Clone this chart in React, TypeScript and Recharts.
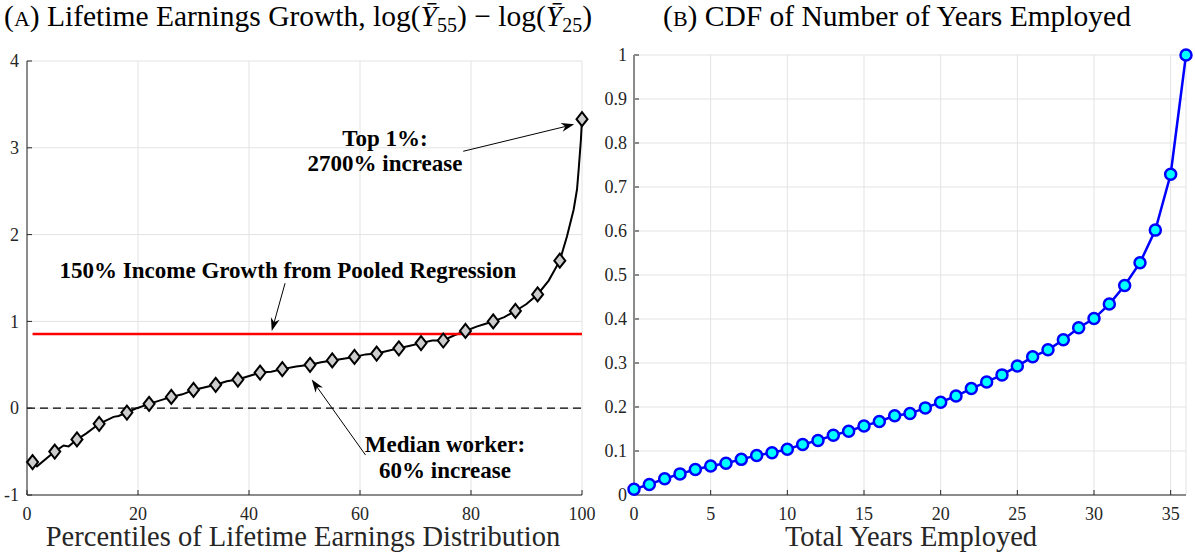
import { LineChart, Line, XAxis, YAxis, CartesianGrid, ReferenceLine } from 'recharts'

// panel A: lifetime earnings growth by percentile
const earnPct = [1, 1.8, 5, 6.6, 7.5, 9, 10.7, 13, 15.6, 16.5, 18, 19.8, 22, 24, 26, 28, 30, 34, 36, 38, 42, 44, 46, 48.5, 51, 53, 55, 59, 61, 63, 67, 69, 71, 73, 75, 77, 79, 81, 82.5, 84, 86, 88, 90, 92, 94, 96, 97.3, 98.5, 99.1, 99.4, 99.8, 100]
const earnVal = [-0.62, -0.67, -0.5, -0.43, -0.44, -0.36, -0.29, -0.18, -0.1, -0.09, -0.05, 0.0, 0.05, 0.09, 0.13, 0.16, 0.21, 0.27, 0.31, 0.33, 0.41, 0.42, 0.45, 0.48, 0.5, 0.53, 0.55, 0.59, 0.62, 0.63, 0.69, 0.72, 0.75, 0.78, 0.78, 0.84, 0.89, 0.94, 0.97, 1.0, 1.05, 1.12, 1.2, 1.31, 1.47, 1.7, 1.98, 2.29, 2.52, 2.75, 3.09, 3.33]

const markPct = [1, 5, 9, 13, 18, 22, 26, 30, 34, 38, 42, 46, 51, 55, 59, 63, 67, 71, 75, 79, 84, 88, 92, 96, 100]
const markVal = [-0.62, -0.5, -0.36, -0.18, -0.05, 0.05, 0.13, 0.21, 0.27, 0.33, 0.41, 0.45, 0.5, 0.55, 0.59, 0.63, 0.69, 0.75, 0.78, 0.89, 1.0, 1.12, 1.31, 1.7, 3.33]

const pooledPct = [1, 100]
const pooledVal = [0.855, 0.855]

// arrows: [start, head] in data units
const topArrow = [{ x: 78.6, y: 2.96 }, { x: 98.6, y: 3.27 }]
const pooledArrow = [{ x: 46.5, y: 1.44 }, { x: 44.1, y: 0.89 }]
const medianArrow = [{ x: 61.0, y: -0.54 }, { x: 51.3, y: 0.33 }]

const pctTicks = [0, 20, 40, 60, 80, 100]
const growthTicks = [-1, 0, 1, 2, 3, 4]

// panel B: CDF of years employed
const years = [0, 1, 2, 3, 4, 5, 6, 7, 8, 9, 10, 11, 12, 13, 14, 15, 16, 17, 18, 19, 20, 21, 22, 23, 24, 25, 26, 27, 28, 29, 30, 31, 32, 33, 34, 35, 36]
const cdfVal = [0.013, 0.024, 0.037, 0.048, 0.058, 0.066, 0.072, 0.081, 0.09, 0.096, 0.104, 0.115, 0.124, 0.136, 0.145, 0.157, 0.167, 0.18, 0.185, 0.198, 0.211, 0.225, 0.242, 0.257, 0.273, 0.293, 0.314, 0.33, 0.353, 0.38, 0.401, 0.434, 0.476, 0.528, 0.602, 0.729, 1.0]

const yearTicks = [0, 5, 10, 15, 20, 25, 30, 35]
const cdfTicks = [0, 0.1, 0.2, 0.3, 0.4, 0.5, 0.6, 0.7, 0.8, 0.9, 1]

const earnData = earnPct.map((x, i) => ({ x, y: earnVal[i] }))
const markData = markPct.map((x, i) => ({ x, y: markVal[i] }))
const pooledData = pooledPct.map((x, i) => ({ x, y: pooledVal[i] }))
const cdfData = years.map((x, i) => ({ x, y: cdfVal[i] }))

const serif = '"Liberation Serif", "Times New Roman", serif'

const BottomTick = (props: any) => {
  const { x, y, payload } = props
  return (
    <text x={x} y={y} dy="0.71em" textAnchor="middle" fontFamily={serif} fontSize={18} fill="#262626">
      {payload.value}
    </text>
  )
}

const LeftTick = (props: any) => {
  const { x, y, payload } = props
  return (
    <text x={x} y={y} dy="0.34em" textAnchor="end" fontFamily={serif} fontSize={18} fill="#262626">
      {payload.value}
    </text>
  )
}

const Diamond = (props: any) => {
  const { cx, cy, index } = props
  if (cx == null || cy == null) return <g key={index} />
  return (
    <path
      key={index}
      d={`M${cx},${cy - 7}L${cx + 5.5},${cy}L${cx},${cy + 7}L${cx - 5.5},${cy}Z`}
      fill="#cccccc"
      stroke="#000"
      strokeWidth={2}
    />
  )
}

const Arrow = (props: any) => {
  const { x1, y1, x2, y2 } = props
  const a = Math.atan2(y2 - y1, x2 - x1)
  const len = 13
  const w = 4.5
  const bx = x2 - len * Math.cos(a)
  const by = y2 - len * Math.sin(a)
  const ix = x2 - len * 0.7 * Math.cos(a)
  const iy = y2 - len * 0.7 * Math.sin(a)
  const px = -Math.sin(a) * w
  const py = Math.cos(a) * w
  return (
    <g>
      <line x1={x1} y1={y1} x2={ix} y2={iy} stroke="#000" strokeWidth={1} />
      <path d={`M${x2},${y2}L${bx + px},${by + py}L${ix},${iy}L${bx - px},${by - py}Z`} fill="#000" />
    </g>
  )
}

function EarningsChart() {
  return (
    <LineChart width={600} height={554} margin={{ top: 61, right: 18, bottom: 0, left: 0 }}>
      <CartesianGrid stroke="#e3e3e3" />
      <XAxis
        type="number"
        dataKey="x"
        domain={[0, 100]}
        ticks={pctTicks}
        interval={0}
        height={59}
        tickSize={-5}
        tickMargin={17}
        tick={BottomTick}
        stroke="#262626"
      />
      <XAxis xAxisId="top" orientation="top" type="number" dataKey="x" domain={[0, 100]} ticks={pctTicks} interval={0} height={0} tickSize={-5} tick={false} stroke="#262626" />
      <YAxis
        type="number"
        domain={[-1, 4]}
        ticks={growthTicks}
        interval={0}
        width={27}
        tickSize={-5}
        tickMargin={13}
        tick={LeftTick}
        stroke="#262626"
      />
      <YAxis yAxisId="right" orientation="right" type="number" domain={[-1, 4]} ticks={growthTicks} interval={0} width={0} tickSize={-5} tick={false} stroke="#8a8a8a" strokeWidth={2} />
      <ReferenceLine y={0} stroke="#000" strokeWidth={1.2} strokeDasharray="8 5" />
      <Line data={earnData} dataKey="y" type="linear" stroke="#000" strokeWidth={2} dot={false} isAnimationActive={false} />
      <Line data={pooledData} dataKey="y" type="linear" stroke="#ff0000" strokeWidth={2.5} dot={false} isAnimationActive={false} />
      <Line data={markData} dataKey="y" type="linear" stroke="none" dot={Diamond} activeDot={false} isAnimationActive={false} />
      <ReferenceLine segment={topArrow} shape={Arrow} ifOverflow="visible" />
      <ReferenceLine segment={pooledArrow} shape={Arrow} ifOverflow="visible" />
      <ReferenceLine segment={medianArrow} shape={Arrow} ifOverflow="visible" />
    </LineChart>
  )
}

function CdfChart() {
  return (
    <LineChart width={595} height={554} margin={{ top: 55, right: 9, bottom: 0, left: 0 }}>
      <CartesianGrid stroke="#e3e3e3" />
      <XAxis
        type="number"
        dataKey="x"
        domain={[0, 36]}
        ticks={yearTicks}
        interval={0}
        height={59}
        tickSize={-5}
        tickMargin={17}
        tick={BottomTick}
        stroke="#262626"
      />
      <XAxis xAxisId="top" orientation="top" type="number" dataKey="x" domain={[0, 36]} ticks={yearTicks} interval={0} height={0} tickSize={-5} tick={false} stroke="#262626" />
      <YAxis
        type="number"
        domain={[0, 1]}
        ticks={cdfTicks}
        interval={0}
        width={34}
        tickSize={-5}
        tickMargin={12}
        tick={LeftTick}
        stroke="#8a8a8a"
        strokeWidth={2}
      />
      <YAxis yAxisId="right" orientation="right" type="number" domain={[0, 1]} ticks={cdfTicks} interval={0} width={0} tickSize={-5} tick={false} stroke="#262626" />
      <Line
        data={cdfData}
        dataKey="y"
        type="linear"
        stroke="#0000ff"
        strokeWidth={2.5}
        dot={{ r: 5.5, fill: '#00ffff', stroke: '#0000ff', strokeWidth: 2.5 }}
        activeDot={false}
        isAnimationActive={false}
      />
    </LineChart>
  )
}

export default function App() {
  const bold = { fontFamily: serif, fontWeight: 700, fontSize: 23, fill: '#000' }
  return (
    <div style={{ position: 'absolute', left: 0, top: 0, width: 1195, height: 554, background: '#fff', fontFamily: serif }}>
      <div style={{ position: 'absolute', left: 0, top: 0 }}>
        <EarningsChart />
      </div>
      <div style={{ position: 'absolute', left: 600, top: 0 }}>
        <CdfChart />
      </div>
      <svg width={1195} height={554} style={{ position: 'absolute', left: 0, top: 0, pointerEvents: 'none' }}>
        <text x={298} y={26} textAnchor="middle" fontFamily={serif} fontSize={29.5} fill="#000">
          (<tspan fontSize={22}>A</tspan>) Lifetime Earnings Growth, log(<tspan fontStyle="italic">{'\u0232'}</tspan>
          <tspan fontSize={20} dy={6}>55</tspan>
          <tspan dy={-6}>) − log(</tspan>
          <tspan fontStyle="italic">{'\u0232'}</tspan>
          <tspan fontSize={20} dy={6}>25</tspan>
          <tspan dy={-6}>)</tspan>
        </text>
        <text x={897} y={26} textAnchor="middle" fontFamily={serif} fontSize={29.5} fill="#000">
          (<tspan fontSize={22}>B</tspan>) CDF of Number of Years Employed
        </text>
        <text x={303} y={546} textAnchor="middle" fontFamily={serif} fontSize={28.5} fill="#262626">
          Percentiles of Lifetime Earnings Distribution
        </text>
        <text x={911} y={546} textAnchor="middle" fontFamily={serif} fontSize={28.5} fill="#262626">
          Total Years Employed
        </text>
        <text x={385} y={146} textAnchor="middle" style={bold}>Top 1%:</text>
        <text x={385} y={171} textAnchor="middle" style={bold}>2700% increase</text>
        <text x={288} y={278} textAnchor="middle" style={bold}>150% Income Growth from Pooled Regression</text>
        <text x={445} y={452} textAnchor="middle" style={bold}>Median worker:</text>
        <text x={445} y={478} textAnchor="middle" style={bold}>60% increase</text>
      </svg>
    </div>
  )
}
